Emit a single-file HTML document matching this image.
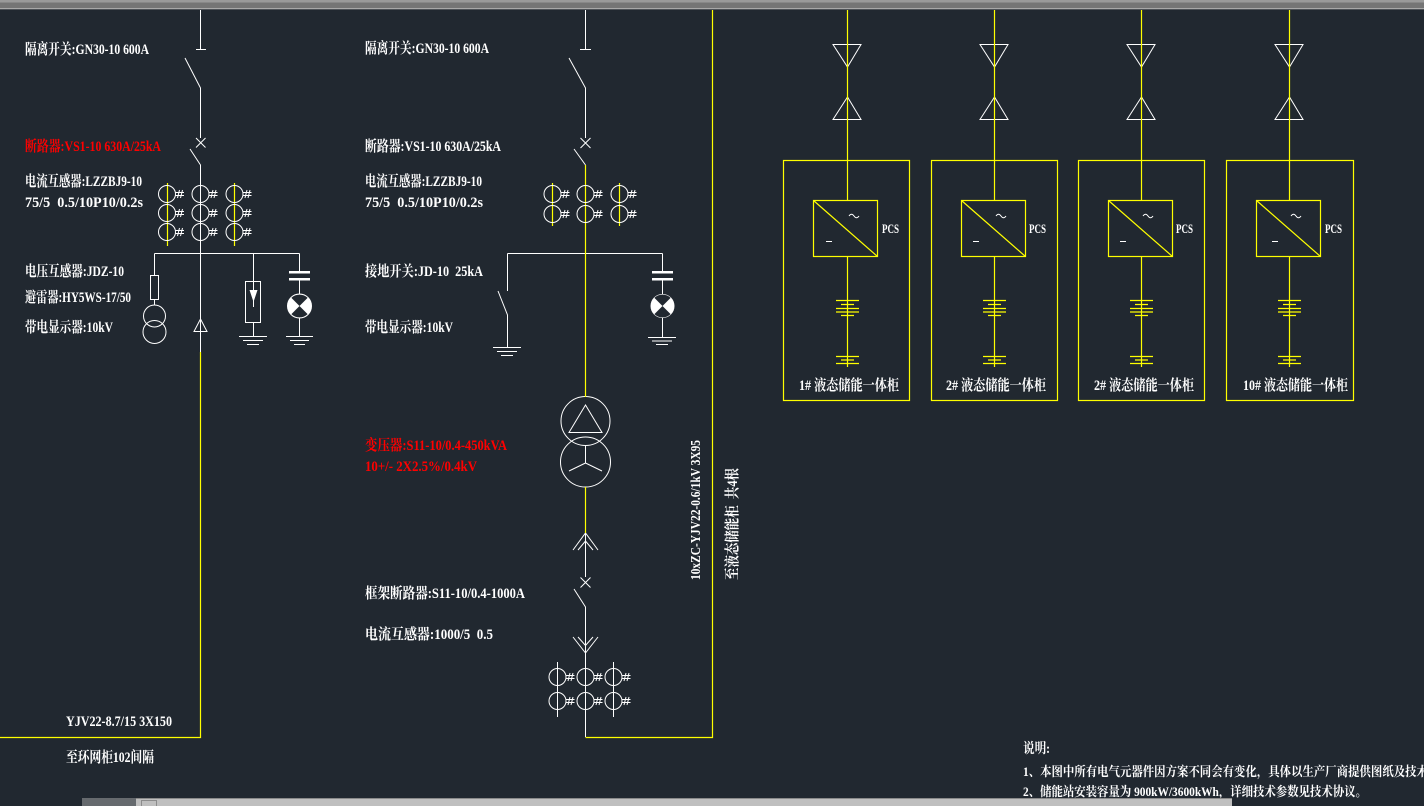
<!DOCTYPE html>
<html>
<head>
<meta charset="utf-8">
<style>
html,body{margin:0;padding:0;background:#212830;overflow:hidden;}
svg{display:block;}
text{font-family:"Liberation Serif","Noto Serif CJK SC",serif;font-weight:bold;fill:#ffffff;white-space:pre;}
.red{fill:#ff0000;}
</style>
</head>
<body>
<svg xmlns="http://www.w3.org/2000/svg" width="1424" height="806" viewBox="0 0 1424 806" xml:space="preserve">
<defs>
  <g id="ct" fill="none" stroke="#ffffff" stroke-width="1">
    <circle cx="0" cy="0" r="8.5"/>
    <path d="M8.5 -1.5 H17 M8.5 1.5 H17 M10.5 4 L12.5 -4 M13.5 4 L15.5 -4"/>
  </g>
</defs>

<!-- background -->
<rect x="0" y="0" width="1424" height="806" fill="#212830"/>
<!-- top bar -->
<rect x="0" y="0" width="1424" height="2.5" fill="#9a9a9a"/>
<rect x="0" y="2.5" width="1424" height="5.5" fill="#757575"/>
<rect x="0" y="8" width="1424" height="1" fill="#a8a8a8"/>
<rect x="0" y="9" width="1424" height="1" fill="#4e5257"/>

<!-- ================= LEFT PANEL ================= -->
<g fill="none" stroke="#ffffff" stroke-width="1">
  <path d="M200.5 10 V49.5 M196 49.5 H206"/>
  <path d="M185 58 L200.5 88 V138"/>
  <path d="M196 138 L205.5 147.5 M205.5 138 L196 147.5"/>
  <path d="M190 149 L200.5 165 V352"/>
  <path d="M200.5 319 L194 331.5 H207 Z"/>
  <!-- bus -->
  <path d="M154.5 253.5 H299.5"/>
  <!-- PT branch -->
  <path d="M154.5 253.5 V275.5"/>
  <rect x="150.5" y="275.5" width="8" height="24"/>
  <path d="M154.5 299.5 V305"/>
  <circle cx="154.5" cy="316" r="11"/>
  <circle cx="154.5" cy="332" r="11.5"/>
  <!-- arrester -->
  <path d="M253.5 253.5 V281.5"/>
  <rect x="245.5" y="281.5" width="15" height="41"/>
  <path d="M253.5 281.5 V307"/>
  <path d="M253.5 322.5 V336.5 M239 336.5 H267 M243 340.5 H263 M247 344.5 H259"/>
  <!-- display -->
  <path d="M299.5 253.5 V271 M299.5 280 V294 M299.5 318 V336.5 M286 336.5 H313 M290 340.5 H309 M294 344.5 H305"/>
  <circle cx="299.5" cy="306" r="12"/>
</g>
<path d="M249.5 290 H257.5 L253.5 302 Z" fill="#ffffff"/>
<rect x="289" y="271" width="21" height="2.5" fill="#ffffff"/>
<rect x="289" y="278" width="21" height="2.5" fill="#ffffff"/>
<circle cx="299.5" cy="306" r="12" fill="#ffffff"/>
<path d="M299.5 306 L291.4 297.9 A11.5 11.5 0 0 1 307.6 297.9 Z M299.5 306 L291.4 314.1 A11.5 11.5 0 0 0 307.6 314.1 Z" fill="#212830"/>
<!-- yellow -->
<g fill="none" stroke="#ffff00" stroke-width="1.2">
  <path d="M200.5 352 V737.5 H0"/>
  <path d="M167.5 183 V246 M234.5 183 V246"/>
</g>
<use href="#ct" x="167" y="194"/><use href="#ct" x="200.5" y="194"/><use href="#ct" x="234.5" y="194"/>
<use href="#ct" x="167" y="213"/><use href="#ct" x="200.5" y="213"/><use href="#ct" x="234.5" y="213"/>
<use href="#ct" x="167" y="232"/><use href="#ct" x="200.5" y="232"/><use href="#ct" x="234.5" y="232"/>

<!-- left texts -->
<text x="25" y="54" font-size="15" textLength="124" lengthAdjust="spacingAndGlyphs">隔离开关:GN30-10 600A</text>
<text class="red" x="25" y="151" font-size="15" textLength="136" lengthAdjust="spacingAndGlyphs">断路器:VS1-10 630A/25kA</text>
<text x="25" y="186" font-size="15" textLength="117" lengthAdjust="spacingAndGlyphs">电流互感器:LZZBJ9-10</text>
<text x="25" y="207" font-size="15" textLength="118" lengthAdjust="spacingAndGlyphs">75/5  0.5/10P10/0.2s</text>
<text x="25" y="276" font-size="15" textLength="99" lengthAdjust="spacingAndGlyphs">电压互感器:JDZ-10</text>
<text x="25" y="302" font-size="15" textLength="106" lengthAdjust="spacingAndGlyphs">避雷器:HY5WS-17/50</text>
<text x="25" y="332" font-size="15" textLength="88" lengthAdjust="spacingAndGlyphs">带电显示器:10kV</text>
<text x="66" y="726" font-size="15" textLength="106" lengthAdjust="spacingAndGlyphs">YJV22-8.7/15 3X150</text>
<text x="66" y="762" font-size="15" textLength="88" lengthAdjust="spacingAndGlyphs">至环网柜102间隔</text>

<!-- ================= MIDDLE PANEL ================= -->
<g fill="none" stroke="#ffffff" stroke-width="1">
  <path d="M585.5 10 V49.5 M580 49.5 H591"/>
  <path d="M569 58 L585.5 88 V138"/>
  <path d="M580.5 138 L590.5 148 M590.5 138 L580.5 148"/>
  <path d="M574 149 L585.5 165"/>
  <!-- bus -->
  <path d="M507.5 253.5 H662.5"/>
  <!-- earth switch -->
  <path d="M507.5 253.5 V291 M498 291 L507.5 315 V347.5 M493 347.5 H521 M497 351.5 H517 M501 355.5 H513"/>
  <!-- display -->
  <path d="M662.5 253.5 V271 M662.5 280 V294 M662.5 318 V337.5 M648 337.5 H676 M652 341 H672 M656 344.5 H668"/>
  <!-- transformer -->
  <circle cx="585.5" cy="421" r="24.5"/>
  <circle cx="585.5" cy="462" r="25"/>
  <path d="M585.5 405 L569 432.5 H602 Z"/>
  <path d="M585.5 445 V463 M585.5 463 L569 471 M585.5 463 L602 471"/>
  <!-- lower -->
  <path d="M585.5 533 V577"/>
  <path d="M573 550 L585.5 533 L598 550 M578 550 L585.5 541 L593 550"/>
  <path d="M580.5 577.5 L590.5 587.5 M590.5 577.5 L580.5 587.5"/>
  <path d="M574 589 L585.5 607 V737"/>
  <path d="M573 637 L585.5 653 L598 637 M578 637 L585.5 645.5 L593 637"/>
  <path d="M557.5 662 V717 M613.5 662 V717"/>
</g>
<rect x="652" y="271" width="21" height="2.5" fill="#ffffff"/>
<rect x="652" y="278" width="21" height="2.5" fill="#ffffff"/>
<circle cx="662.5" cy="306" r="12" fill="#ffffff"/>
<path d="M662.5 306 L654.4 297.9 A11.5 11.5 0 0 1 670.6 297.9 Z M662.5 306 L654.4 314.1 A11.5 11.5 0 0 0 670.6 314.1 Z" fill="#212830"/>
<g fill="none" stroke="#ffff00" stroke-width="1.2">
  <path d="M585.5 165 V397"/>
  <path d="M585.5 487 V533"/>
  <path d="M552.5 183 V226 M619.5 183 V226"/>
  <path d="M585.5 737.5 H712.5 V10"/>
</g>
<use href="#ct" x="552.5" y="194"/><use href="#ct" x="585.5" y="194"/><use href="#ct" x="619.5" y="194"/>
<use href="#ct" x="552.5" y="214"/><use href="#ct" x="585.5" y="214"/><use href="#ct" x="619.5" y="214"/>
<use href="#ct" x="557.5" y="677"/><use href="#ct" x="585.5" y="677"/><use href="#ct" x="613.5" y="677"/>
<use href="#ct" x="557.5" y="701"/><use href="#ct" x="585.5" y="701"/><use href="#ct" x="613.5" y="701"/>

<!-- middle texts -->
<text x="365" y="53" font-size="15" textLength="124" lengthAdjust="spacingAndGlyphs">隔离开关:GN30-10 600A</text>
<text x="365" y="151" font-size="15" textLength="136" lengthAdjust="spacingAndGlyphs">断路器:VS1-10 630A/25kA</text>
<text x="365" y="186" font-size="15" textLength="117" lengthAdjust="spacingAndGlyphs">电流互感器:LZZBJ9-10</text>
<text x="365" y="207" font-size="15" textLength="118" lengthAdjust="spacingAndGlyphs">75/5  0.5/10P10/0.2s</text>
<text x="365" y="276" font-size="15" textLength="118" lengthAdjust="spacingAndGlyphs">接地开关:JD-10  25kA</text>
<text x="365" y="332" font-size="15" textLength="88" lengthAdjust="spacingAndGlyphs">带电显示器:10kV</text>
<text class="red" x="365" y="450" font-size="15" textLength="142" lengthAdjust="spacingAndGlyphs">变压器:S11-10/0.4-450kVA</text>
<text class="red" x="365" y="471" font-size="15" textLength="112" lengthAdjust="spacingAndGlyphs">10+/- 2X2.5%/0.4kV</text>
<text x="365" y="598" font-size="15" textLength="160" lengthAdjust="spacingAndGlyphs">框架断路器:S11-10/0.4-1000A</text>
<text x="365" y="639" font-size="15" textLength="128" lengthAdjust="spacingAndGlyphs">电流互感器:1000/5  0.5</text>

<!-- vertical texts -->
<g transform="translate(700,580) rotate(-90)">
  <text x="0" y="0" font-size="14" textLength="140" lengthAdjust="spacingAndGlyphs">10xZC-YJV22-0.6/1kV 3X95</text>
</g>
<g transform="translate(737,580) rotate(-90)">
  <text x="0" y="0" font-size="15" textLength="112" lengthAdjust="spacingAndGlyphs">至液态储能柜  共4根</text>
</g>

<!-- ================= RIGHT UNITS ================= -->
<g id="u1">
  <path d="M833 44.5 H861 L847.5 67 Z M847.5 97 L833 119.5 H861 Z" fill="none" stroke="#ffffff" stroke-width="1"/>
  <g fill="none" stroke="#ffff00" stroke-width="1.2">
    <path d="M847.5 10 V200.5 M847.5 256.5 V367"/>
    <rect x="783.5" y="160.5" width="126" height="240"/>
    <rect x="813.5" y="200.5" width="64" height="56"/>
    <path d="M813.5 200.5 L877.5 256.5"/>
    <path d="M836 300.5 H859 M841 304.5 H854 M836 308.5 H859 M836 312 H859 M841 315.5 H854"/>
    <path d="M836 356.5 H859 M841 360 H854 M836 363.5 H859"/>
  </g>
  <path d="M849 216 q2.5 -3.5 5 0 q2.5 3.5 5 0" fill="none" stroke="#ffffff" stroke-width="1"/>
  <path d="M826 241.5 H832" stroke="#ffffff" stroke-width="1"/>
  <text x="882" y="233" font-size="13" textLength="17" lengthAdjust="spacingAndGlyphs">PCS</text>
  <text x="799" y="390" font-size="15" textLength="100" lengthAdjust="spacingAndGlyphs">1# 液态储能一体柜</text>
</g>

<g>
  <path d="M980 44.5 H1008 L994.5 67 Z M994.5 97 L980 119.5 H1008 Z" fill="none" stroke="#ffffff" stroke-width="1"/>
  <g fill="none" stroke="#ffff00" stroke-width="1.2">
    <path d="M994.5 10 V200.5 M994.5 256.5 V367"/>
    <rect x="931.5" y="160.5" width="126" height="240"/>
    <rect x="961.5" y="200.5" width="64" height="56"/>
    <path d="M961.5 200.5 L1025.5 256.5"/>
    <path d="M983 300.5 H1006 M988 304.5 H1001 M983 308.5 H1006 M983 312 H1006 M988 315.5 H1001"/>
    <path d="M983 356.5 H1006 M988 360 H1001 M983 363.5 H1006"/>
  </g>
  <path d="M996 216 q2.5 -3.5 5 0 q2.5 3.5 5 0" fill="none" stroke="#ffffff" stroke-width="1"/>
  <path d="M973 241.5 H979" stroke="#ffffff" stroke-width="1"/>
  <text x="1029" y="233" font-size="13" textLength="17" lengthAdjust="spacingAndGlyphs">PCS</text>
  <text x="946" y="390" font-size="15" textLength="100" lengthAdjust="spacingAndGlyphs">2# 液态储能一体柜</text>
</g>

<g>
  <path d="M1127 44.5 H1155 L1141.5 67 Z M1141.5 97 L1127 119.5 H1155 Z" fill="none" stroke="#ffffff" stroke-width="1"/>
  <g fill="none" stroke="#ffff00" stroke-width="1.2">
    <path d="M1141.5 10 V200.5 M1141.5 256.5 V367"/>
    <rect x="1078.5" y="160.5" width="126" height="240"/>
    <rect x="1108.5" y="200.5" width="64" height="56"/>
    <path d="M1108.5 200.5 L1172.5 256.5"/>
    <path d="M1130 300.5 H1153 M1135 304.5 H1148 M1130 308.5 H1153 M1130 312 H1153 M1135 315.5 H1148"/>
    <path d="M1130 356.5 H1153 M1135 360 H1148 M1130 363.5 H1153"/>
  </g>
  <path d="M1143 216 q2.5 -3.5 5 0 q2.5 3.5 5 0" fill="none" stroke="#ffffff" stroke-width="1"/>
  <path d="M1120 241.5 H1126" stroke="#ffffff" stroke-width="1"/>
  <text x="1176" y="233" font-size="13" textLength="17" lengthAdjust="spacingAndGlyphs">PCS</text>
  <text x="1094" y="390" font-size="15" textLength="100" lengthAdjust="spacingAndGlyphs">2# 液态储能一体柜</text>
</g>

<g>
  <path d="M1275 44.5 H1303 L1289.5 67 Z M1289.5 97 L1275 119.5 H1303 Z" fill="none" stroke="#ffffff" stroke-width="1"/>
  <g fill="none" stroke="#ffff00" stroke-width="1.2">
    <path d="M1289.5 10 V200.5 M1289.5 256.5 V367"/>
    <rect x="1226.5" y="160.5" width="127" height="240"/>
    <rect x="1256.5" y="200.5" width="64" height="56"/>
    <path d="M1256.5 200.5 L1320.5 256.5"/>
    <path d="M1278 300.5 H1301 M1283 304.5 H1296 M1278 308.5 H1301 M1278 312 H1301 M1283 315.5 H1296"/>
    <path d="M1278 356.5 H1301 M1283 360 H1296 M1278 363.5 H1301"/>
  </g>
  <path d="M1291 216 q2.5 -3.5 5 0 q2.5 3.5 5 0" fill="none" stroke="#ffffff" stroke-width="1"/>
  <path d="M1272 241.5 H1278" stroke="#ffffff" stroke-width="1"/>
  <text x="1325" y="233" font-size="13" textLength="17" lengthAdjust="spacingAndGlyphs">PCS</text>
  <text x="1243" y="390" font-size="15" textLength="105" lengthAdjust="spacingAndGlyphs">10# 液态储能一体柜</text>
</g>

<!-- notes -->
<text x="1023" y="753" font-size="14" textLength="27" lengthAdjust="spacingAndGlyphs">说明:</text>
<text x="1023" y="776" font-size="13" textLength="462" lengthAdjust="spacingAndGlyphs">1、本图中所有电气元器件因方案不同会有变化，具体以生产厂商提供图纸及技术协议为准。</text>
<text x="1023" y="796" font-size="13" textLength="344" lengthAdjust="spacingAndGlyphs">2、储能站安装容量为 900kW/3600kWh，详细技术参数见技术协议。</text>

<!-- bottom bar -->
<rect x="82" y="798" width="1150" height="8" fill="#bfbfbf"/>
<rect x="82" y="798" width="1150" height="1" fill="#8a8a8a"/>
<rect x="82" y="798" width="54" height="8" fill="#666a6e"/>
<rect x="141.5" y="800.5" width="15" height="6" fill="none" stroke="#8c8c8c" stroke-width="1"/>
</svg>
</body>
</html>
